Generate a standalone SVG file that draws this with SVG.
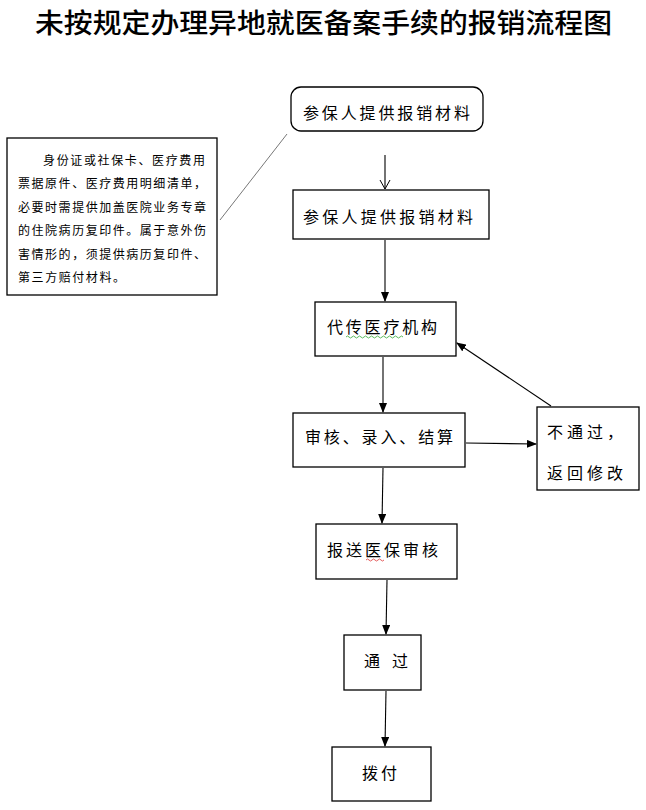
<svg xmlns="http://www.w3.org/2000/svg" width="646" height="810" viewBox="0 0 646 810">
<defs>
<style>
.box{fill:#fff;stroke:#000;stroke-width:1.3}
.t{font-family:"Noto Sans CJK SC","Noto Sans",sans-serif;font-size:16px;fill:#000}
.n{font-family:"Noto Sans CJK SC","Noto Sans",sans-serif;font-size:12px;fill:#000}
.title{font-family:"Noto Sans CJK SC","Noto Sans",sans-serif;font-size:27px;font-weight:500;fill:#000}
.c{fill:none;stroke:#000;stroke-width:1.1}
</style>
<marker id="ah" markerWidth="10" markerHeight="8" refX="9" refY="4" orient="auto" markerUnits="userSpaceOnUse">
<path d="M0,0 L10,4 L0,8 Z" fill="#000"/>
</marker>
<marker id="open" markerWidth="12" markerHeight="12" refX="6" refY="11" orient="0" markerUnits="userSpaceOnUse">
<path d="M1,2 L6,11 L11,2" fill="none" stroke="#000" stroke-width="1"/>
</marker>
</defs>
<rect width="646" height="810" fill="#fff"/>
<text class="title" x="35" y="33" textLength="577" lengthAdjust="spacingAndGlyphs">未按规定办理异地就医备案手续的报销流程图</text>

<g id="connectors">
<line x1="220" y1="220" x2="287" y2="134" stroke="#777" stroke-width="1"/>
<line class="c" x1="385" y1="155" x2="385" y2="189" marker-end="url(#open)"/>
<line class="c" x1="385" y1="240" x2="385" y2="301" marker-end="url(#ah)"/>
<line class="c" x1="383" y1="357" x2="383" y2="412" marker-end="url(#ah)"/>
<line class="c" x1="466" y1="443" x2="536" y2="444" marker-end="url(#ah)"/>
<line class="c" x1="551" y1="406" x2="457" y2="343" marker-end="url(#ah)"/>
<line class="c" x1="383" y1="468" x2="382" y2="523" marker-end="url(#ah)"/>
<line class="c" x1="387" y1="580" x2="386" y2="634" marker-end="url(#ah)"/>
<line class="c" x1="386" y1="691" x2="385" y2="746" marker-end="url(#ah)"/>
</g>

<g id="note">
<rect class="box" x="7" y="138" width="210" height="157"/>
<text class="n" x="43" y="164.5" textLength="162" lengthAdjust="spacing">身份证或社保卡、医疗费用</text>
<text class="n" x="18" y="188" textLength="188" lengthAdjust="spacing">票据原件、医疗费用明细清单，</text>
<text class="n" x="18" y="211.5" textLength="188" lengthAdjust="spacing">必要时需提供加盖医院业务专章</text>
<text class="n" x="18" y="235" textLength="188" lengthAdjust="spacing">的住院病历复印件。属于意外伤</text>
<text class="n" x="18" y="258.5" textLength="188" lengthAdjust="spacing">害情形的，须提供病历复印件、</text>
<text class="n" x="18" y="282" textLength="107" lengthAdjust="spacing">第三方赔付材料。</text>
</g>

<g id="n1">
<rect class="box" x="291" y="87" width="192" height="44" rx="10"/>
<text class="t" x="303" y="119" textLength="167" lengthAdjust="spacing">参保人提供报销材料</text>
</g>
<g id="n2">
<rect class="box" x="293" y="190" width="196" height="49"/>
<text class="t" x="303" y="223" textLength="170" lengthAdjust="spacing">参保人提供报销材料</text>
</g>
<g id="n3">
<rect class="box" x="315" y="302" width="141" height="54"/>
<text class="t" x="327" y="333" textLength="110" lengthAdjust="spacing">代传医疗机构</text>
<path d="M346,337 q1.5,-2 3,0 t3,0 t3,0 t3,0 t3,0 t3,0 t3,0 t3,0 t3,0 t3,0 t3,0 t3,0 t3,0 t3,0 t3,0 t3,0 t3,0 t3,0 t3,0" fill="none" stroke="#3a3" stroke-width="0.8"/>
</g>
<g id="n4">
<rect class="box" x="293" y="413" width="172" height="54"/>
<text class="t" x="305" y="443" textLength="148" lengthAdjust="spacing">审核、录入、结算</text>
</g>
<g id="n5">
<rect class="box" x="537" y="407" width="102" height="83"/>
<text class="t" x="547" y="438" textLength="76" lengthAdjust="spacing">不通过，</text>
<text class="t" x="547" y="479" textLength="76" lengthAdjust="spacing">返回修改</text>
</g>
<g id="n6">
<rect class="box" x="316" y="524" width="141" height="55"/>
<text class="t" x="327" y="556" textLength="111" lengthAdjust="spacing">报送医保审核</text>
<path d="M366,560 q1.5,-2 3,0 t3,0 t3,0 t3,0 t3,0 t3,0" fill="none" stroke="#d33" stroke-width="0.8"/>
</g>
<g id="n7">
<rect class="box" x="344" y="635" width="77" height="55"/>
<text class="t" x="364" y="667">通</text>
<text class="t" x="392" y="667">过</text>
</g>
<g id="n8">
<rect class="box" x="332" y="747" width="99" height="54"/>
<text class="t" x="362" y="779" textLength="35" lengthAdjust="spacing">拨付</text>
</g>
</svg>
